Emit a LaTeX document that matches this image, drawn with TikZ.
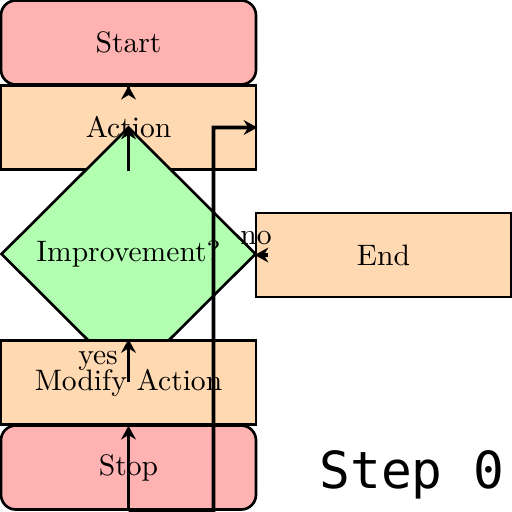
\documentclass[tikz,border=0pt]{standalone}
\usepackage{fontspec}
\newfontfamily\stepfont{DejaVu Sans Mono}
\usetikzlibrary{shapes.geometric,arrows.meta}
\newdimen\pu \pu=0.338pt
\tikzset{
  boxbase/.style={draw=black, line width=0.9pt, minimum width=255\pu, minimum height=84\pu, inner sep=0pt, anchor=center},
  termbox/.style={boxbase, fill=red!30, rounded corners=5pt},
  actbox/.style={boxbase, fill=orange!30},
  decbox/.style={draw=black, line width=0.9pt, fill=green!30, shape=diamond, minimum width=255\pu, minimum height=254\pu, inner sep=0pt},
  arr/.style={line width=1.2pt, -{Stealth[length=4.6pt,width=5pt,inset=1.5pt]}},
  lbl/.style={font=\normalsize, inner sep=3pt}
}
\begin{document}
\begin{tikzpicture}[x=\pu, y=-\pu]
\useasboundingbox (0,0) rectangle (512,512);
\node[termbox] (start) at (128.5,42.5) {Start};
\node[actbox] (action) at (128.5,127.5) {Action};
\node[decbox] (dec) at (128.5,254) {Improvement?};
\node[actbox] (modify) at (128.5,382.5) {Modify Action};
\node[termbox] (stop) at (128.5,467.5) {Stop};
\node[actbox] (end) at (383.5,255) {End};
\node[font=\LARGE\stepfont, inner sep=0pt] (step) at (412,475) {Step 0};
\coordinate (corner) at (213.5,510);
\draw[arr] ([yshift=-1pt]action.north) -- (start.south);
\draw[arr] (action.south) -- (dec.north);
\draw[arr] (dec.south) -- node[lbl, left] {yes} (modify.north);
\draw[arr] ([xshift=4.6pt]end.west) -- node[lbl, above, pos=0.9] {no} (end.west);
\draw[arr] (stop.south) -- (modify.south);
\draw[arr] (stop.south) -- (corner) |- (action.east);
\end{tikzpicture}
\end{document}
